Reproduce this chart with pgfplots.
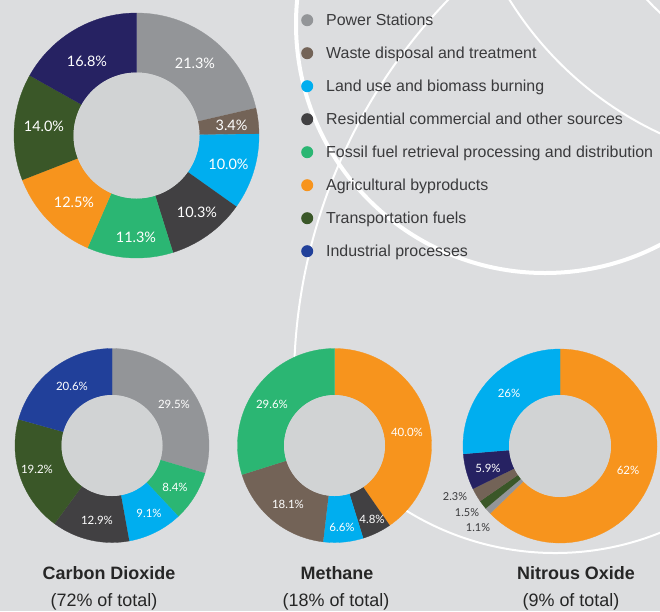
\documentclass[border=0pt]{standalone}
\usepackage{pgfplots}
\pgfplotsset{compat=1.18}
\usepackage{fontspec}
\setmainfont{Liberation Sans}
\newfontfamily\gill{Lato}

\definecolor{bg}{HTML}{DCDDDF}
\definecolor{hole}{HTML}{D1D3D4}
\definecolor{cPower}{HTML}{939598}
\definecolor{cWaste}{HTML}{736357}
\definecolor{cLand}{HTML}{00AEEF}
\definecolor{cResid}{HTML}{414042}
\definecolor{cFossil}{HTML}{2BB673}
\definecolor{cAgri}{HTML}{F7941D}
\definecolor{cTrans}{HTML}{3A5728}
\definecolor{cNavy}{HTML}{262262}
\definecolor{cBlue}{HTML}{21409A}
\definecolor{txt}{HTML}{3A3A3C}

\pgfplotsset{dotlegend/.style={legend image code/.code={\fill[##1] (6bp,0bp) circle (6bp);}}}

% ring: centre x, centre y, outer radius, inner radius, sum of the values
\newcommand\startring[5]{\gdef\rcx{#1}\gdef\rcy{#2}\gdef\rR{#3}\gdef\rr{#4}\gdef\rtot{#5}\gdef\rcum{0}}
% one segment: value, colour (clockwise from the top)
\newcommand\seg[2]{%
  \pgfmathsetmacro\aA{-90+360*(\rcum/\rtot)}%
  \pgfmathsetmacro\ncum{\rcum+#1}%
  \pgfmathsetmacro\dA{360*(#1/\rtot)}%
  \xdef\rcum{\ncum}%
  \edef\doseg{\noexpand\addplot[fill=#2, draw=#2, line width=0.3pt, forget plot,
      domain=0:3, samples=181, variable=\noexpand\t]
    ({\rcx+(\rR-(\rR-\rr)*min(max(\noexpand\t-1,0),1))*cos(\aA+\dA*(min(\noexpand\t,1)-max(\noexpand\t-2,0)))},
     {\rcy+(\rR-(\rR-\rr)*min(max(\noexpand\t-1,0),1))*sin(\aA+\dA*(min(\noexpand\t,1)-max(\noexpand\t-2,0)))});}%
  \doseg}
\newcommand\hole{\edef\dohole{\noexpand\fill[hole] (axis cs:\rcx,\rcy) circle (\rr bp);}\dohole}

\begin{document}
\begin{tikzpicture}
\begin{axis}[
  width=660bp, height=611bp, scale only axis,
  xmin=0, xmax=660, ymin=0, ymax=611, y dir=reverse,
  hide axis,
  legend cell align=left,
  legend style={at={(axis cs:301,10)}, anchor=north west, draw=none, fill=none,
    inner sep=0pt, row sep=13bp, column sep=13bp,
    font=\fontsize{16}{19}\selectfont, text=txt,
    nodes={inner sep=0pt, text height=15.5bp, text depth=4.5bp}},
]
\fill[bg] (rel axis cs:0,0) rectangle (rel axis cs:1,1);
% background rings
\draw[white, line width=4bp, overlay] (axis cs:545,24) circle (249bp);
\draw[white, line width=2bp, overlay] (axis cs:808,-185) circle (351bp);
\draw[white, line width=2bp, overlay] (axis cs:790,-130) circle (193bp);
\draw[white, line width=2bp, overlay] (axis cs:845,382) ++(134:551bp) arc[start angle=134, end angle=193, radius=551bp];
\draw[white, line width=2bp, overlay] (axis cs:555,271) ++(222:282bp) arc[start angle=222, end angle=305, radius=282bp];

\addlegendimage{dotlegend, fill=cPower, draw=none}\addlegendentry{Power Stations}
\addlegendimage{dotlegend, fill=cWaste, draw=none}\addlegendentry{Waste disposal and treatment}
\addlegendimage{dotlegend, fill=cLand, draw=none}\addlegendentry{Land use and biomass burning}
\addlegendimage{dotlegend, fill=cResid, draw=none}\addlegendentry{Residential commercial and other sources}
\addlegendimage{dotlegend, fill=cFossil, draw=none}\addlegendentry{Fossil fuel retrieval processing and distribution}
\addlegendimage{dotlegend, fill=cAgri, draw=none}\addlegendentry{Agricultural byproducts}
\addlegendimage{dotlegend, fill=cTrans, draw=none}\addlegendentry{Transportation fuels}
\addlegendimage{dotlegend, fill=cBlue, draw=none}\addlegendentry{Industrial processes}

% all greenhouse gases
\startring{136.5}{135.5}{122.5}{63}{99.6}
\seg{21.3}{cPower}\seg{3.4}{cWaste}\seg{10.0}{cLand}\seg{10.3}{cResid}
\seg{11.3}{cFossil}\seg{12.5}{cAgri}\seg{14.0}{cTrans}\seg{16.8}{cNavy}
\hole
% carbon dioxide
\startring{112}{445.5}{97}{50.5}{99.7}
\seg{29.5}{cPower}\seg{8.4}{cFossil}\seg{9.1}{cLand}\seg{12.9}{cResid}
\seg{19.2}{cTrans}\seg{20.6}{cBlue}
\hole
% methane
\startring{334.5}{445.5}{97}{50.5}{99.1}
\seg{40.0}{cAgri}\seg{4.8}{cResid}\seg{6.6}{cLand}\seg{18.1}{cWaste}\seg{29.6}{cFossil}
\hole
% nitrous oxide
\startring{560}{446}{97}{51}{98.8}
\seg{62}{cAgri}\seg{1.1}{cPower}\seg{1.5}{cTrans}\seg{2.3}{cWaste}\seg{5.9}{cNavy}\seg{26}{cLand}
\hole

\begin{scope}[every node/.style={font=\gill\fontsize{14.5}{16}\selectfont, text=white}]
\node at (axis cs:195,63) {21.3\%};
\node at (axis cs:231.5,125) {3.4\%};
\node at (axis cs:228.5,164.5) {10.0\%};
\node at (axis cs:197,212) {10.3\%};
\node at (axis cs:136,237) {11.3\%};
\node at (axis cs:74,202) {12.5\%};
\node at (axis cs:44,126) {14.0\%};
\node at (axis cs:87,61) {16.8\%};
\end{scope}
\begin{scope}[every node/.style={font=\gill\fontsize{11.5}{13}\selectfont, text=white}]
\node at (axis cs:174,404) {29.5\%};
\node at (axis cs:175,487) {8.4\%};
\node at (axis cs:149,513) {9.1\%};
\node at (axis cs:97,520) {12.9\%};
\node at (axis cs:37,469) {19.2\%};
\node at (axis cs:72,386) {20.6\%};
\node at (axis cs:407,432) {40.0\%};
\node at (axis cs:372,519) {4.8\%};
\node at (axis cs:342,527) {6.6\%};
\node at (axis cs:288,504) {18.1\%};
\node at (axis cs:272,404) {29.6\%};
\node at (axis cs:509,393) {26\%};
\node at (axis cs:628,470) {62\%};
\node at (axis cs:488,468) {5.9\%};
\end{scope}
\begin{scope}[every node/.style={font=\gill\fontsize{11}{13}\selectfont, text=txt}]
\node at (axis cs:455,497) {2.3\%};
\node at (axis cs:467,513) {1.5\%};
\node at (axis cs:478,528) {1.1\%};
\end{scope}
\begin{scope}[every node/.style={text=black!85}]
\node[font=\fontsize{18}{20}\selectfont\bfseries] at (axis cs:109,573) {Carbon Dioxide};
\node[font=\fontsize{18}{20}\selectfont] at (axis cs:104,602) {(72\% of total)};
\node[font=\fontsize{18}{20}\selectfont\bfseries] at (axis cs:337,573) {Methane};
\node[font=\fontsize{18}{20}\selectfont] at (axis cs:336,602) {(18\% of total)};
\node[font=\fontsize{18}{20}\selectfont\bfseries] at (axis cs:576,573) {Nitrous Oxide};
\node[font=\fontsize{18}{20}\selectfont] at (axis cs:571,602) {(9\% of total)};
\end{scope}
\end{axis}
\pgfresetboundingbox
\path (current axis.south west) rectangle (current axis.north east);
\end{tikzpicture}
\end{document}
